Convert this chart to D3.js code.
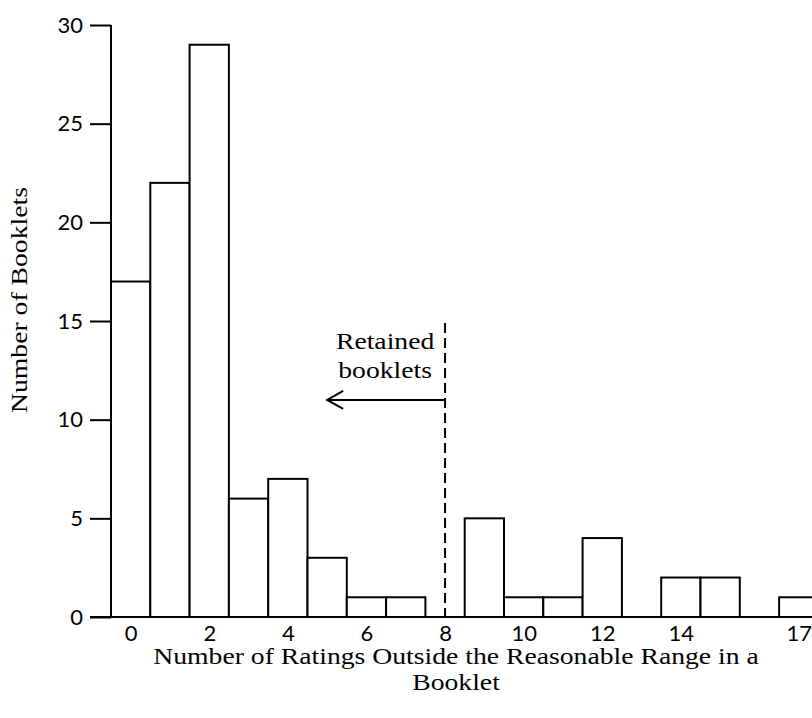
<!DOCTYPE html>
<html>
<head>
<meta charset="utf-8">
<script src="https://cdn.jsdelivr.net/npm/d3@7"></script>
<style>
  body { margin: 0; background: #fff; }
  .tick text { font-family: Lato, "Open Sans", sans-serif; font-size: 22px; fill: #000; }
  .title { font-family: "Liberation Serif", serif; font-size: 22.5px; fill: #000; }
</style>
</head>
<body>
<svg id="chart" width="812" height="718"></svg>
<script>
// counts of booklets per number of out-of-range ratings
var ratings = [0, 1, 2, 3, 4, 5, 6, 7, 8, 9, 10, 11, 12, 13, 14, 15, 16, 17];
var booklets = [17, 22, 29, 6, 7, 3, 1, 1, 0, 5, 1, 1, 4, 0, 2, 2, 0, 1];
var xTickLabels = [0, 2, 4, 6, 8, 10, 12, 14, 17];
var yTicks = [0, 5, 10, 15, 20, 25, 30];
var cutoff = 8;

var margin = { top: 25, left: 111 },
  height = 592;
// the serif in the original is wider than Liberation Serif, so stretch it
var stretch = 1.23;

var svg = d3.select("#chart");
var g = svg.append("g").attr("transform", "translate(" + margin.left + "," + margin.top + ")");

// one unit per band, bars fill the band
var x = d3.scaleLinear().domain([0, 18]).range([0, 707.4]);
var y = d3.scaleLinear().domain([0, 30]).range([height, 0]);

// bars
g.selectAll(".bar")
  .data(ratings.filter(function (d, i) { return booklets[i] > 0; }))
  .enter()
  .append("rect")
  .attr("class", "bar")
  .attr("x", function (d) { return x(d); })
  .attr("width", x(1) - x(0))
  .attr("y", function (d) { return y(booklets[d]); })
  .attr("height", function (d) { return y(0) - y(booklets[d]); })
  .attr("fill", "#fff")
  .attr("stroke", "#000")
  .attr("stroke-width", 2);

// y axis
var yAxis = g.append("g")
  .call(d3.axisLeft(y).tickValues(yTicks).tickSize(21).tickPadding(7));
yAxis.select(".domain").attr("stroke-width", 2).attr("d", "M0," + y(30) + "V" + y(0));
yAxis.selectAll(".tick line").attr("stroke-width", 2);

// x axis, labels centred in bands, no tick marks
var xAxis = g.append("g")
  .attr("transform", "translate(0," + height + ")")
  .call(d3.axisBottom(x).tickValues(xTickLabels.map(function (d) { return d + 0.5; }))
    .tickFormat(function (d) { return d - 0.5; }).tickSize(0).tickPadding(8));
xAxis.select(".domain").attr("stroke-width", 2).attr("d", "M-21,0H" + (812 - margin.left));

// cutoff dashed line
var cx = x(cutoff + 0.5);
g.append("line")
  .attr("x1", cx).attr("x2", cx)
  .attr("y1", y(14.9)).attr("y2", y(0))
  .attr("stroke", "#000").attr("stroke-width", 2)
  .attr("stroke-dasharray", "10,5");

// arrow pointing to the retained booklets
var ay = y(11);
var ax = x(5.5);
g.append("line")
  .attr("x1", cx).attr("x2", ax).attr("y1", ay).attr("y2", ay)
  .attr("stroke", "#000").attr("stroke-width", 2);
g.append("path")
  .attr("d", "M" + (ax + 16) + "," + (ay - 9) + "L" + ax + "," + ay + "L" + (ax + 16) + "," + (ay + 9))
  .attr("fill", "none").attr("stroke", "#000").attr("stroke-width", 2);

function label(parent, tx, ty, rot, str) {
  parent.append("text").attr("class", "title")
    .attr("transform", "translate(" + tx + "," + ty + ")" + (rot ? " rotate(" + rot + ")" : "") + " scale(" + stretch + ",1)")
    .attr("text-anchor", "middle")
    .text(str);
}

label(g, x(7) - 1, y(13.6), 0, "Retained");
label(g, x(7) - 1, y(12.1), 0, "booklets");

// axis titles
label(svg, 456, 664, 0, "Number of Ratings Outside the Reasonable Range in a");
label(svg, 456, 690, 0, "Booklet");
label(svg, 27, 300, -90, "Number of Booklets");
</script>
</body>
</html>
